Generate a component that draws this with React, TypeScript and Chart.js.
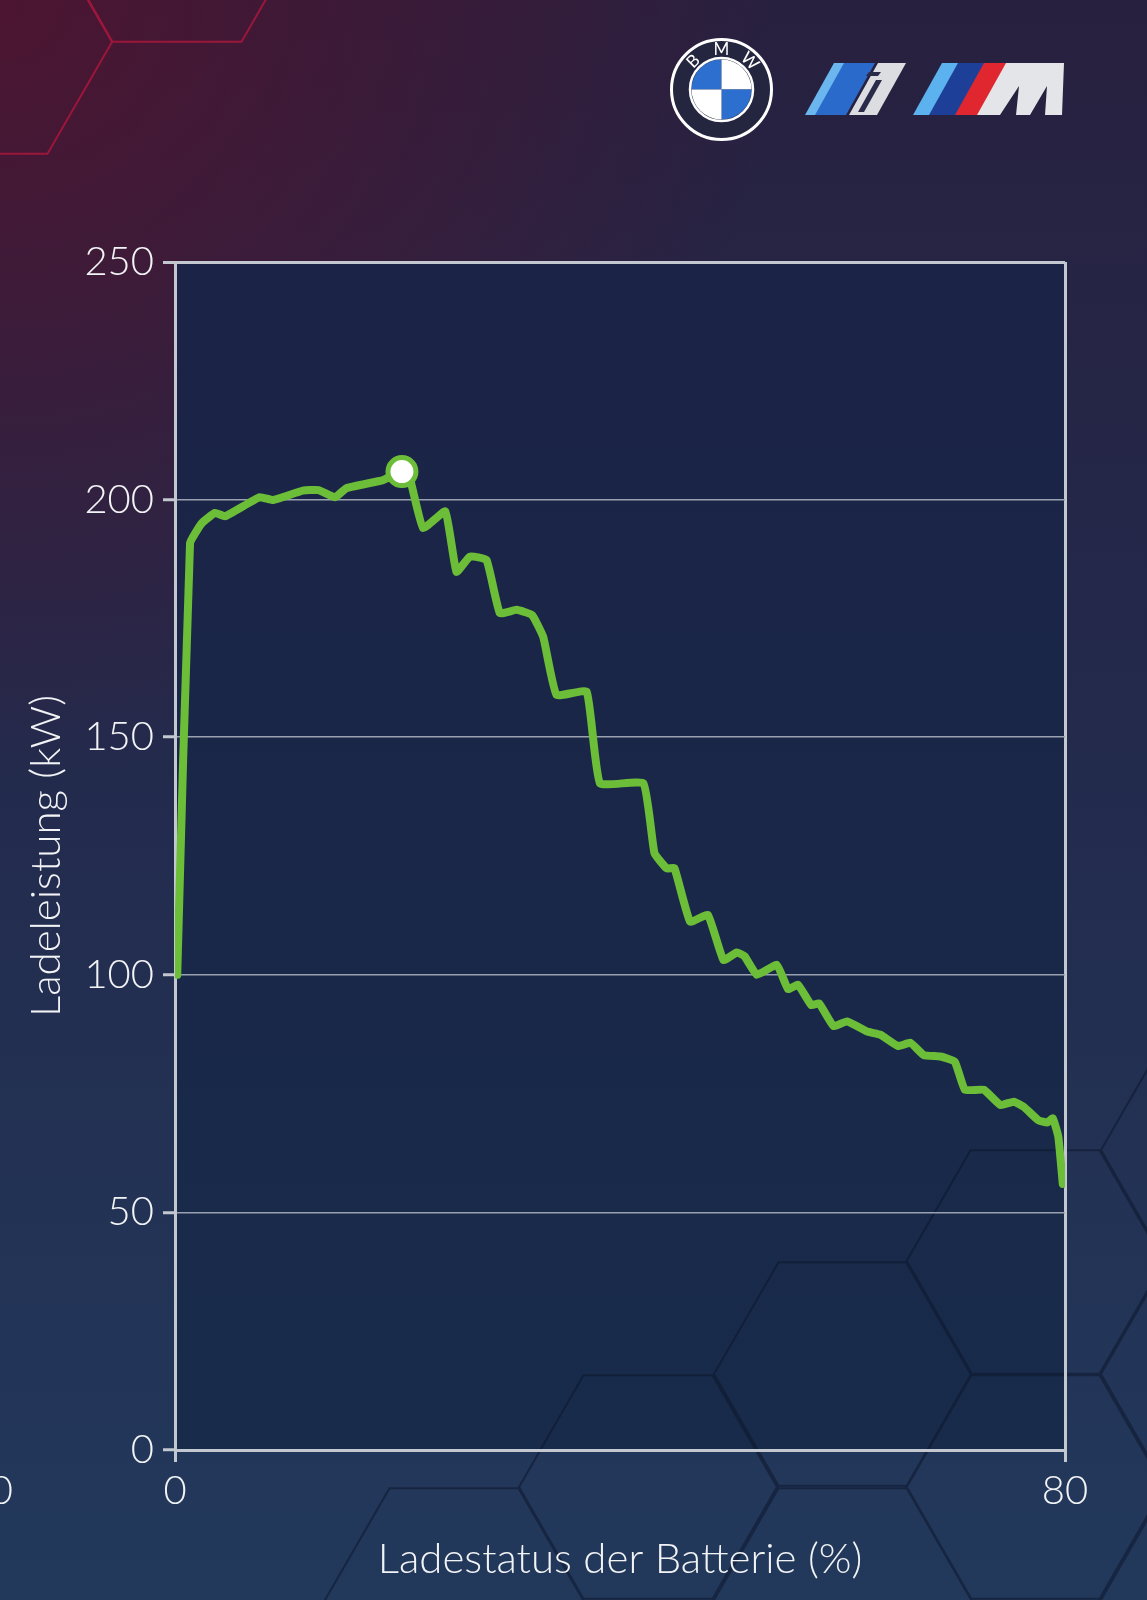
import React, { useEffect, useRef } from "react";
import { Chart, registerables } from "chart.js";

Chart.register(...registerables);

// ---- data ----
const socPercent = [
  0.2, 1.35, 2.4, 3.6, 4.5, 7.6, 8.8, 11.5, 12.9, 14.4,
  15.4, 18.7, 20.4, 21.1, 22.3, 24.3, 25.3, 26.5, 28.0, 29.2,
  30.7, 32.1, 33.1, 34.3, 37.0, 38.2, 42.1, 43.1, 44.2, 44.9,
  46.3, 47.9, 49.3, 50.5, 51.2, 52.3, 54.1, 55.1, 56.0, 57.2,
  57.9, 59.2, 60.4, 62.3, 63.4, 65.0, 66.1, 67.3, 68.8, 70.1,
  71.0, 72.7, 74.2, 75.4, 76.3, 77.6, 78.4, 78.9, 79.4, 79.8,
];
const powerKw = [
  100, 190.8, 195, 197.2, 196.5, 200.5, 199.9, 201.9, 202.0, 200.5,
  202.4, 204.1, 205.9, 204.5, 194.0, 197.5, 184.8, 188.0, 187.3, 176.1,
  176.8, 175.7, 171.1, 158.9, 159.6, 140.3, 140.3, 125.6, 122.4, 122.4,
  111.2, 112.6, 103.1, 104.7, 103.9, 100.0, 102.1, 97.0, 97.9, 93.6,
  94.0, 89.2, 90.2, 88.0, 87.4, 85.0, 85.7, 83.1, 82.8, 81.7,
  75.8, 75.8, 72.6, 73.3, 72.2, 69.4, 68.9, 69.8, 65.9, 56.0,
];
const peakIndex = 12;
const xTickValues = [0, 80];
const yTickValues = [0, 50, 100, 150, 200, 250];
const xTitle = "Ladestatus der Batterie (%)";
const yTitle = "Ladeleistung (kW)";
const edgeLabel = "0";
const roundelLetters = ["B", "M", "W"];

// ---- styles ----
const W = 1147;
const H = 1600;
const GREEN = "#6cbd38";
const FRAME = "#c3c7cf";
const GRID = "#9aa1b0";
const TEXT = "#f2f3f5";
const FONT = "Lato, 'Open Sans', sans-serif";

function hexPath(ctx: CanvasRenderingContext2D, cx: number, cy: number, R: number) {
  ctx.moveTo(cx + R, cy);
  for (let k = 1; k < 6; k++) {
    ctx.lineTo(cx + R * Math.cos((k * Math.PI) / 3), cy + R * Math.sin((k * Math.PI) / 3));
  }
  ctx.closePath();
}

function para(
  ctx: CanvasRenderingContext2D,
  x0: number,
  x1: number,
  yT: number,
  yB: number,
  s: number,
  color: string
) {
  ctx.beginPath();
  ctx.moveTo(x0, yB);
  ctx.lineTo(x1, yB);
  ctx.lineTo(x1 + s, yT);
  ctx.lineTo(x0 + s, yT);
  ctx.closePath();
  ctx.fillStyle = color;
  ctx.fill();
}

const bgPlugin = {
  id: "bgDecor",
  beforeDraw(chart: any) {
    const ctx: CanvasRenderingContext2D = chart.ctx;
    const { width, height, chartArea } = chart;
    ctx.save();
    const g = ctx.createLinearGradient(0, 0, 0, height);
    g.addColorStop(0, "#28203f");
    g.addColorStop(0.45, "#232a4c");
    g.addColorStop(1, "#22395c");
    ctx.fillStyle = g;
    ctx.fillRect(0, 0, width, height);
    const r = ctx.createRadialGradient(0, 0, 0, 0, 0, 780);
    r.addColorStop(0, "rgba(85,18,45,0.8)");
    r.addColorStop(1, "rgba(85,18,45,0)");
    ctx.fillStyle = r;
    ctx.fillRect(0, 0, width, height);

    // red hexagons top-left
    ctx.beginPath();
    [[177, -70], [-17, 42]].forEach(([cx, cy]) => hexPath(ctx, cx, cy, 129));
    ctx.strokeStyle = "rgba(165,22,60,0.9)";
    ctx.lineWidth = 2;
    ctx.stroke();

    // plot area fill
    const { left, top, right, bottom } = chartArea;
    const pg = ctx.createLinearGradient(0, top, 0, bottom);
    pg.addColorStop(0, "#1b2346");
    pg.addColorStop(1, "#182b4b");
    ctx.fillStyle = pg;
    ctx.fillRect(left, top, right - left, bottom - top);

    // dark hexagons bottom-right
    ctx.beginPath();
    [
      [1035, 1262], [843, 1374], [648, 1487], [454, 1600], [1035, 1487],
      [1230, 1150], [1230, 1374], [843, 1600], [1230, 1600],
    ].forEach(([cx, cy]) => hexPath(ctx, cx, cy, 129));
    ctx.strokeStyle = "rgba(12,22,44,0.55)";
    ctx.lineWidth = 2;
    ctx.stroke();
    ctx.restore();
  },
  afterDraw(chart: any) {
    const ctx: CanvasRenderingContext2D = chart.ctx;
    ctx.save();
    // partial label at left edge
    ctx.font = `300 40px ${FONT}`;
    ctx.fillStyle = TEXT;
    ctx.textAlign = "right";
    ctx.textBaseline = "middle";
    ctx.fillText(edgeLabel, 13, 1491);

    // BMW roundel
    const cx = 721.5;
    const cy = 89.5;
    ctx.beginPath();
    ctx.arc(cx, cy, 50, 0, Math.PI * 2);
    ctx.fillStyle = "#24253f";
    ctx.fill();
    ctx.lineWidth = 3;
    ctx.strokeStyle = "#ffffff";
    ctx.stroke();
    const qr = 30;
    const quads = [
      [Math.PI, Math.PI * 1.5, "#2c6fcf"],
      [Math.PI * 1.5, Math.PI * 2, "#ffffff"],
      [0, Math.PI * 0.5, "#2c6fcf"],
      [Math.PI * 0.5, Math.PI, "#ffffff"],
    ] as const;
    quads.forEach(([a0, a1, c]) => {
      ctx.beginPath();
      ctx.moveTo(cx, cy);
      ctx.arc(cx, cy, qr, a0, a1);
      ctx.closePath();
      ctx.fillStyle = c;
      ctx.fill();
    });
    ctx.beginPath();
    ctx.arc(cx, cy, qr + 1.5, 0, Math.PI * 2);
    ctx.lineWidth = 2.5;
    ctx.strokeStyle = "#ffffff";
    ctx.stroke();
    ctx.font = `400 17px ${FONT}`;
    ctx.textAlign = "center";
    ctx.textBaseline = "middle";
    ctx.fillStyle = "#ffffff";
    [-135, -90, -45].forEach((deg, i) => {
      const a = (deg * Math.PI) / 180;
      ctx.save();
      ctx.translate(cx + 40 * Math.cos(a), cy + 40 * Math.sin(a));
      ctx.rotate(a + Math.PI / 2);
      ctx.fillText(roundelLetters[i], 0, 0);
      ctx.restore();
    });

    // i logo
    const yT = 63;
    const yB = 115;
    const s = 29;
    para(ctx, 805, 816, yT, yB, s, "#6bb6ef");
    para(ctx, 815, 846, yT, yB, s, "#2a6acb");
    para(ctx, 849, 877, yT, yB, s, "#dcdde0");
    para(ctx, 858, 864, 80, 112, 18, "#2a2b48");
    para(ctx, 866, 878, 72, 76, 3, "#2a2b48");

    // M logo
    para(ctx, 913, 930, yT, yB, s, "#5cb2ee");
    para(ctx, 929, 956, yT, yB, s, "#1d3f98");
    para(ctx, 955, 978, yT, yB, s, "#e0272f");
    ctx.beginPath();
    ctx.moveTo(977, 115);
    ctx.lineTo(1006, 63);
    ctx.lineTo(1064, 63);
    ctx.lineTo(1062, 115);
    ctx.lineTo(1045, 115);
    ctx.lineTo(1047, 86);
    ctx.lineTo(1030, 115);
    ctx.lineTo(1016, 115);
    ctx.lineTo(1019, 86);
    ctx.lineTo(1000, 115);
    ctx.closePath();
    ctx.fillStyle = "#e4e5e8";
    ctx.fill();
    ctx.restore();
  },
};

export default function App() {
  const ref = useRef<HTMLCanvasElement | null>(null);

  useEffect(() => {
    document.body.style.margin = "0";
    const canvas = ref.current;
    if (!canvas) return;
    const points = socPercent.map((x, i) => ({ x, y: powerKw[i] }));
    const peak = [{ x: socPercent[peakIndex], y: powerKw[peakIndex] }];
    const tickFont = { family: FONT, size: 40, weight: "300" as any };
    const titleFont = { family: FONT, size: 42, weight: "300" as any };
    const chart = new Chart(canvas, {
      type: "line",
      data: {
        datasets: [
          {
            data: peak,
            showLine: false,
            pointRadius: 14,
            pointBackgroundColor: "#ffffff",
            pointBorderColor: GREEN,
            pointBorderWidth: 5,
            order: 0,
            clip: false as any,
          },
          {
            data: points,
            borderColor: GREEN,
            borderWidth: 8,
            pointRadius: 0,
            tension: 0.12,
            borderJoinStyle: "round",
            borderCapStyle: "round",
            fill: false,
            order: 1,
          },
        ],
      },
      options: {
        animation: false,
        responsive: false,
        devicePixelRatio: 1,
        layout: { padding: { left: 0, right: 82, top: 262, bottom: 0 } },
        plugins: { legend: { display: false }, tooltip: { enabled: false } },
        scales: {
          x: {
            type: "linear",
            min: 0,
            max: 80,
            afterBuildTicks: (s: any) => {
              s.ticks = xTickValues.map((v) => ({ value: v }));
            },
            afterFit: (s: any) => {
              s.height = 150;
              s.paddingLeft = 0;
              s.paddingRight = 0;
            },
            grid: {
              color: (c: any) => (c.tick && c.tick.value === 80 ? FRAME : "rgba(0,0,0,0)"),
              lineWidth: 3,
              drawTicks: true,
              tickLength: 12,
              tickColor: FRAME,
              tickWidth: 3,
            },
            border: { display: true, color: FRAME, width: 3 },
            ticks: {
              color: TEXT,
              font: tickFont,
              padding: 5,
              maxRotation: 0,
              autoSkip: false,
              callback: (v: any) => String(v),
            },
            title: {
              display: true,
              text: xTitle,
              color: TEXT,
              font: titleFont,
              padding: { top: 0, bottom: 15 },
            },
          },
          y: {
            type: "linear",
            min: 0,
            max: 250,
            afterBuildTicks: (s: any) => {
              s.ticks = yTickValues.map((v) => ({ value: v }));
            },
            afterFit: (s: any) => {
              s.width = 175;
              s.paddingTop = 0;
              s.paddingBottom = 0;
            },
            grid: {
              color: (c: any) => (c.tick && c.tick.value === 250 ? FRAME : GRID),
              lineWidth: (c: any) => (c.tick && c.tick.value === 250 ? 3 : 1.5),
              drawTicks: true,
              tickLength: 12,
              tickColor: FRAME,
              tickWidth: 3,
            },
            border: { display: true, color: FRAME, width: 3 },
            ticks: {
              color: TEXT,
              font: tickFont,
              padding: 9,
              autoSkip: false,
              callback: (v: any) => String(v),
            },
            title: {
              display: true,
              text: yTitle,
              color: TEXT,
              font: titleFont,
              padding: { top: 21, bottom: 0 },
            },
          },
        },
      },
      plugins: [bgPlugin],
    });
    return () => chart.destroy();
  }, []);

  return (
    <div style={{ position: "absolute", left: 0, top: 0, width: W, height: H }}>
      <canvas ref={ref} width={W} height={H} style={{ display: "block", width: W, height: H }} />
    </div>
  );
}
